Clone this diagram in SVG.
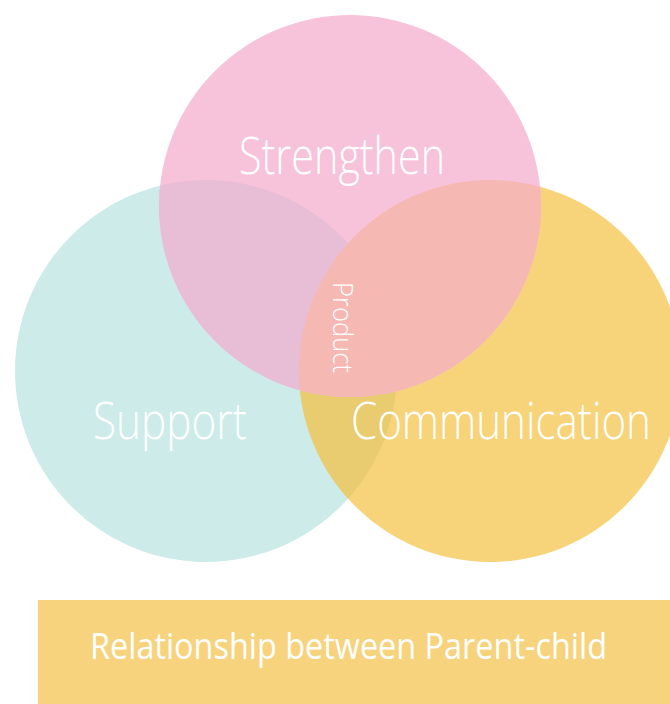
<svg xmlns="http://www.w3.org/2000/svg" width="670" height="704" viewBox="0 0 670 704">
<style>
.lbl{font-family:"Open Sans","Liberation Sans",sans-serif;font-weight:300;fill:#ffffff}
.title{font-family:"Open Sans","Liberation Sans",sans-serif;font-weight:400;fill:#ffffff}
</style>
<defs>
<clipPath id="cTeal"><circle cx="206" cy="371" r="191"/></clipPath>
<clipPath id="cYellow"><circle cx="490" cy="371" r="191"/></clipPath>
</defs>
<rect width="670" height="704" fill="#ffffff"/>
<g id="support">
<circle cx="206" cy="371" r="191" fill="#CCEBE9"/>
</g>
<g id="communication">
<circle cx="490" cy="371" r="191" fill="#F7D37A"/>
<circle cx="490" cy="371" r="191" fill="#E8CC6F" clip-path="url(#cTeal)"/>
</g>
<g id="strengthen">
<circle cx="350" cy="206" r="191" fill="#F7C3DA"/>
<circle cx="350" cy="206" r="191" fill="#E8BED6" clip-path="url(#cTeal)"/>
<circle cx="350" cy="206" r="191" fill="#F5B8B3" clip-path="url(#cYellow)"/>
</g>
<g id="labels">
<text class="lbl" x="239" y="174" font-size="51" textLength="206" lengthAdjust="spacingAndGlyphs">Strengthen</text>
<text class="lbl" x="93" y="439" font-size="51" textLength="154" lengthAdjust="spacingAndGlyphs">Support</text>
<text class="lbl" x="351" y="439" font-size="51" textLength="300" lengthAdjust="spacingAndGlyphs">Communication</text>
<text class="lbl" x="333" y="282" font-size="27" textLength="91" lengthAdjust="spacingAndGlyphs" transform="rotate(90 333 282)">Product</text>
</g>
<g id="connectors"/>
<g id="footer">
<rect x="38" y="600" width="632" height="104" fill="#F7D37D"/>
<text class="title" x="90" y="659" font-size="37" textLength="517" lengthAdjust="spacingAndGlyphs">Relationship between Parent-child</text>
</g>
</svg>
